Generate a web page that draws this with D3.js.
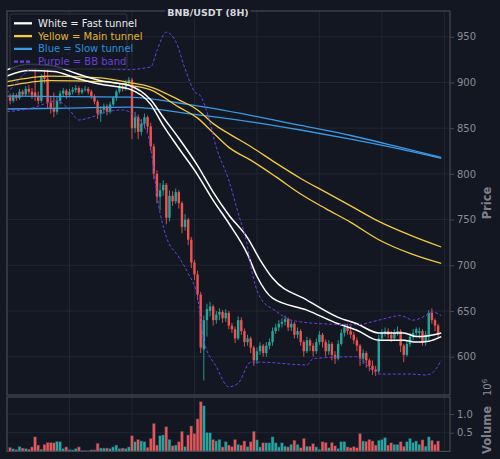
<!DOCTYPE html>
<html>
<head>
<meta charset="utf-8">
<script src="https://cdn.jsdelivr.net/npm/d3@7"></script>
<style>
  body { margin: 0; background: #131722; }
  svg { display: block; }
</style>
</head>
<body>
<div id="chart"></div>
<script>
// candles start at bar index 1 (8H bars)
const firstBar = 1;
const opens = [884,880,886,883,890,887,893,890,889,884,880,906,904,878,872,868,880,888,891,886,890,892,894,889,892,893,890,885,879,866,870,874,868,876,883,890,896,893,900,
  903,850,862,846,855,862,852,830,800,775,782,788,752,776,770,780,768,742,750,728,703,690,668,608,640,650,655,640,646,649,642,648,634,630,620,640,628,616,620,610,
  596,606,612,604,612,616,628,632,636,638,641,632,636,624,628,616,606,618,612,606,616,624,616,606,614,602,598,614,626,632,628,624,618,612,598,604,596,590,586,
  584,620,626,628,624,620,626,628,612,602,614,622,626,626,628,616,622,648,640,634];
const highs = [888,889,888,893,892,896,897,894,921,890,909,913,914,885,889,884,891,894,893,893,895,897,896,894,896,895,892,887,881,874,877,876,879,885,892,899,899,903,906,
  905,868,865,860,866,864,856,833,804,790,793,790,782,781,784,782,770,756,752,731,706,694,671,645,658,660,657,650,653,651,652,650,637,633,644,643,631,624,622,612,
  610,616,614,616,620,632,636,640,642,645,643,640,638,632,630,618,622,620,615,620,628,626,619,618,616,606,618,630,636,636,634,627,621,614,608,606,598,596,590,
  624,630,632,631,628,630,633,630,614,618,626,630,632,632,630,628,651,653,642,636];
const lows = [876,878,880,881,884,885,887,882,880,876,878,899,871,866,862,865,876,884,882,884,887,889,886,887,890,887,882,876,860,857,866,864,866,874,880,888,890,891,897,
  838,845,838,842,850,846,825,794,768,760,776,745,748,765,767,762,735,738,722,697,684,662,604,574,622,644,634,636,640,637,638,630,626,615,618,624,611,612,604,590,
  592,602,600,600,608,612,625,628,632,634,628,628,620,620,612,600,604,606,600,603,613,610,600,602,596,592,596,612,622,624,620,614,606,590,592,588,584,580,579,
  582,617,622,620,616,617,623,605,594,600,611,618,622,620,612,612,618,636,628,620];
const closes = [880,886,883,890,887,893,890,886,884,880,906,904,878,872,868,880,888,891,886,890,892,894,889,892,893,890,885,879,866,870,874,868,876,883,890,896,893,900,903,
  850,862,846,855,862,852,830,800,775,782,788,752,776,770,780,768,742,750,728,703,690,668,610,640,652,655,640,646,649,642,648,634,630,620,640,628,616,620,610,596,
  606,612,604,612,616,628,632,636,638,641,632,636,624,628,616,606,618,612,606,616,624,616,606,614,602,598,614,626,632,628,624,618,612,598,604,596,590,586,584,
  620,626,628,624,620,626,628,612,602,614,622,626,630,628,616,624,648,640,634,624];
const volumes = [0.11,0.07,0.05,0.13,0.09,0.08,0.06,0.12,0.39,0.17,0.06,0.19,0.24,0.24,0.23,0.27,0.26,0.08,0.12,0.05,0.04,0.08,0.12,0.03,0.03,0.02,0.04,0.04,0.22,0.09,
  0.09,0.09,0.08,0.12,0.17,0.08,0.09,0.08,0.12,0.42,0.26,0.32,0.28,0.26,0.11,0.35,0.75,0.17,0.42,0.44,0.66,0.32,0.15,0.17,0.26,0.54,0.13,0.44,0.68,0.48,
  0.87,1.33,1.22,0.51,0.50,0.32,0.28,0.32,0.12,0.26,0.17,0.13,0.32,0.19,0.17,0.28,0.13,0.26,0.54,0.31,0.12,0.23,0.23,0.23,0.39,0.23,0.12,0.23,0.14,0.12,
  0.19,0.30,0.19,0.10,0.35,0.14,0.14,0.21,0.12,0.06,0.26,0.24,0.10,0.24,0.15,0.08,0.26,0.26,0.12,0.10,0.13,0.10,0.48,0.28,0.27,0.32,0.28,0.17,0.30,0.32,
  0.37,0.17,0.23,0.19,0.19,0.26,0.14,0.26,0.35,0.24,0.28,0.19,0.31,0.14,0.39,0.30,0.19,0.28];

// indicator lines, read as [bar index, price]
const fastUpper = [[0,914],[7,920],[15,918],[22,910],[30,902],[36,899],[39,897],[46,881],[50,862],[55,839],[61,809],[66,780],[71,755],[77,730],[81,706],[85,686],[96,662],[106,643],[112,636],[119,626],[127,626],[131,622],[135,623],[139,626]];
const fastLower = [[0,907],[7,913],[15,912],[22,905],[30,898],[36,895],[39,893],[46,876],[50,853],[55,828],[61,799],[66,771],[71,746],[77,712],[80,688],[85,664],[96,651],[106,636],[112,629],[119,618],[127,618],[131,616],[135,617],[139,622]];
const mainUpper = [[0,901],[14,907],[30,905],[39,900],[46,895],[55,881],[61,870],[66,855],[71,844],[78,830],[86,812],[94,795],[102,780],[110,765],[119,748],[129,733],[139,720]];
const mainLower = [[0,896],[14,902],[30,901],[39,897],[46,892],[55,873],[61,861],[66,845],[71,829],[78,815],[86,797],[94,778],[102,762],[110,747],[119,728],[129,713],[139,702]];
const slowUpper = [[0,885],[39,884],[58,876],[78,864],[94,853],[110,842],[126,829],[139,818]];
const slowLower = [[0,871],[20,872],[39,873],[58,866],[78,857],[94,848],[110,838],[126,827],[139,817]];
const bbUpper = [[0,888],[8,917],[14,930],[22,932],[29,925],[33,915],[38,914],[46,917],[48,935],[51,955],[54,945],[57,915],[60,890],[62,885],[64,868],[67,829],[71,793],[74,757],[77,720],[78,700],[81,665],[86,650],[91,640],[101,636],[112,635],[119,640],[126,645],[130,640],[134,645],[136,649],[139,645]];
const bbLower = [[0,868],[8,872],[16,880],[20,870],[23,859],[27,862],[31,867],[37,870],[40,866],[45,844],[49,757],[51,731],[55,709],[58,691],[61,665],[63,618],[67,589],[71,567],[74,571],[78,594],[81,594],[96,591],[98,598],[112,600],[117,585],[119,581],[129,581],[134,580],[136,582],[139,596]];

const priceTicks = [600, 650, 700, 750, 800, 850, 900, 950];
const volumeTicks = [0.5, 1.0];
const gridBars = [0, 20, 40, 60, 80, 100, 120, 140];
const legendItems = [
  { label: "White = Fast tunnel", color: "#ffffff", text: "#ececec", dash: null },
  { label: "Yellow = Main tunnel", color: "#f5c940", text: "#e2b534", dash: null },
  { label: "Blue = Slow tunnel", color: "#3a9ae6", text: "#2f8ed8", dash: null },
  { label: "Purple = BB band", color: "#6c3fe6", text: "#6a40d8", dash: "4,2" }
];

const W = 500, H = 459;
const bg = "#131722", up = "#26a69a", down = "#ef5350";
const gridCol = "#242936", spineCol = "#454953", tickCol = "#8a8d95";
const font = "DejaVu Sans, sans-serif";

const svg = d3.select("#chart").append("svg").attr("width", W).attr("height", H);
svg.append("rect").attr("width", W).attr("height", H).attr("fill", bg);

const pLeft = 7, pRight = 450, pTop = 11, mainBottom = 395, volTop = 397, volBottom = 451.4;

const x = d3.scaleLinear().domain([0, 141.8]).range([pLeft, pRight]);
const y = d3.scaleLinear().domain([558.1, 978.2]).range([mainBottom, pTop]);
const yv = d3.scaleLinear().domain([0, 1.455]).range([volBottom, volTop]);

const defs = svg.append("defs");
defs.append("clipPath").attr("id", "clipMain").append("rect")
  .attr("x", pLeft).attr("y", pTop).attr("width", pRight - pLeft).attr("height", mainBottom - pTop);
defs.append("clipPath").attr("id", "clipVol").append("rect")
  .attr("x", pLeft).attr("y", volTop).attr("width", pRight - pLeft).attr("height", volBottom - volTop);

// grids
const grid = svg.append("g");
grid.selectAll(".gx").data(gridBars).enter().append("line")
  .attr("x1", d => x(d)).attr("x2", d => x(d)).attr("y1", pTop).attr("y2", mainBottom)
  .attr("stroke", gridCol).attr("stroke-width", 0.8);
grid.selectAll(".gxv").data(gridBars).enter().append("line")
  .attr("x1", d => x(d)).attr("x2", d => x(d)).attr("y1", volTop).attr("y2", volBottom)
  .attr("stroke", gridCol).attr("stroke-width", 0.8);
grid.selectAll(".gy").data(priceTicks).enter().append("line")
  .attr("x1", pLeft).attr("x2", pRight).attr("y1", d => y(d)).attr("y2", d => y(d))
  .attr("stroke", gridCol).attr("stroke-width", 0.8);
grid.selectAll(".gyv").data(volumeTicks).enter().append("line")
  .attr("x1", pLeft).attr("x2", pRight).attr("y1", d => yv(d)).attr("y2", d => yv(d))
  .attr("stroke", gridCol).attr("stroke-width", 0.8);

// candles
const bars = opens.map((o, i) => ({ i: i + firstBar, o, h: highs[i], l: lows[i], c: closes[i], v: volumes[i] }));
const gMain = svg.append("g").attr("clip-path", "url(#clipMain)");
const bw = 2.4;
gMain.selectAll(".wick").data(bars).enter().append("line")
  .attr("x1", d => x(d.i)).attr("x2", d => x(d.i))
  .attr("y1", d => y(d.h)).attr("y2", d => y(d.l))
  .attr("stroke", d => d.c >= d.o ? up : down).attr("stroke-width", 0.9);
gMain.selectAll(".body").data(bars).enter().append("rect")
  .attr("x", d => x(d.i) - bw / 2).attr("width", bw)
  .attr("y", d => y(Math.max(d.o, d.c)))
  .attr("height", d => Math.max(0.8, Math.abs(y(d.o) - y(d.c))))
  .attr("fill", d => d.c >= d.o ? up : down);

// indicator lines
const line = d3.line().x(d => x(d[0])).y(d => y(d[1])).curve(d3.curveMonotoneX);
const series = [
  [slowUpper, "#3a9ae6", 1.3, null], [slowLower, "#3a9ae6", 1.3, null],
  [mainUpper, "#f5c940", 1.3, null], [mainLower, "#f5c940", 1.3, null],
  [fastUpper, "#ffffff", 1.5, null], [fastLower, "#ffffff", 1.5, null],
  [bbUpper, "#6c3fe6", 1.0, "3,2"], [bbLower, "#6c3fe6", 1.0, "3,2"]
];
series.forEach(([data, color, w, dash]) => {
  gMain.append("path").datum(data).attr("d", line)
    .attr("fill", "none").attr("stroke", color).attr("stroke-width", w)
    .attr("stroke-dasharray", dash);
});

// volume
const gVol = svg.append("g").attr("clip-path", "url(#clipVol)");
gVol.selectAll(".vbar").data(bars).enter().append("rect")
  .attr("x", d => x(d.i) - 1.5).attr("width", 3)
  .attr("y", d => yv(d.v)).attr("height", d => yv(0) - yv(d.v))
  .attr("fill", d => d.c >= d.o ? up : down)
  .attr("stroke", "#1d3552").attr("stroke-width", 0.5);

// spines
svg.append("rect").attr("x", pLeft).attr("y", pTop).attr("width", pRight - pLeft).attr("height", mainBottom - pTop)
  .attr("fill", "none").attr("stroke", spineCol).attr("stroke-width", 1.2);
svg.append("rect").attr("x", pLeft).attr("y", volTop).attr("width", pRight - pLeft).attr("height", volBottom - volTop)
  .attr("fill", "none").attr("stroke", spineCol).attr("stroke-width", 1.2);

// axes on the right
function styleAxis(g) {
  g.select(".domain").remove();
  g.selectAll(".tick line").attr("stroke", spineCol).attr("stroke-width", 1);
  g.selectAll(".tick text").attr("fill", tickCol).attr("font-family", font).attr("font-size", "10px");
}
svg.append("g").attr("transform", `translate(${pRight},0)`)
  .call(d3.axisRight(y).tickValues(priceTicks).tickSize(4).tickPadding(3))
  .call(styleAxis);
svg.append("g").attr("transform", `translate(${pRight},0)`)
  .call(d3.axisRight(yv).tickValues(volumeTicks).tickSize(4).tickPadding(3).tickFormat(d3.format(".1f")))
  .call(styleAxis);

svg.append("text").attr("transform", `translate(491,${(pTop + mainBottom) / 2}) rotate(-90)`)
  .attr("text-anchor", "middle").attr("fill", "#7d8089").attr("font-family", font)
  .attr("font-weight", "bold").attr("font-size", "11.5px").text("Price");
svg.append("text").attr("transform", `translate(491,430) rotate(-90)`)
  .attr("text-anchor", "middle").attr("fill", "#7d8089").attr("font-family", font)
  .attr("font-weight", "bold").attr("font-size", "11.5px").text("Volume");
const off = svg.append("text").attr("transform", `translate(491,396) rotate(-90)`)
  .attr("text-anchor", "start").attr("fill", tickCol).attr("font-family", font).attr("font-size", "10px");
off.append("tspan").text("10");
off.append("tspan").attr("dy", -4).attr("font-size", "7px").text("6");

// title, with a background box that hides the top spine behind it
const titleG = svg.append("g");
const title = titleG.append("text").attr("x", 208).attr("y", 15.5).attr("text-anchor", "middle")
  .attr("fill", "#d6d8de").attr("font-family", font).attr("font-weight", "bold").attr("font-size", "9.5px")
  .text("BNB/USDT (8H)");
const tb = title.node().getBBox();
titleG.insert("rect", () => title.node()).attr("x", tb.x - 2).attr("y", tb.y).attr("width", tb.width + 4).attr("height", tb.height)
  .attr("fill", bg);

// legend
const lg = svg.append("g");
lg.append("rect").attr("x", 10).attr("y", 14).attr("width", 117).attr("height", 55).attr("rx", 2)
  .attr("fill", bg).attr("fill-opacity", 0.85).attr("stroke", "#3a3e48").attr("stroke-width", 0.8);
legendItems.forEach((d, k) => {
  const cy = 23.3 + k * 12.8;
  lg.append("line").attr("x1", 14).attr("x2", 32).attr("y1", cy).attr("y2", cy)
    .attr("stroke", d.color).attr("stroke-width", 2.3).attr("stroke-dasharray", d.dash);
  lg.append("text").attr("x", 38).attr("y", cy).attr("dy", "0.35em")
    .attr("fill", d.text).attr("font-family", font).attr("font-size", "10px").text(d.label);
});
</script>
</body>
</html>
